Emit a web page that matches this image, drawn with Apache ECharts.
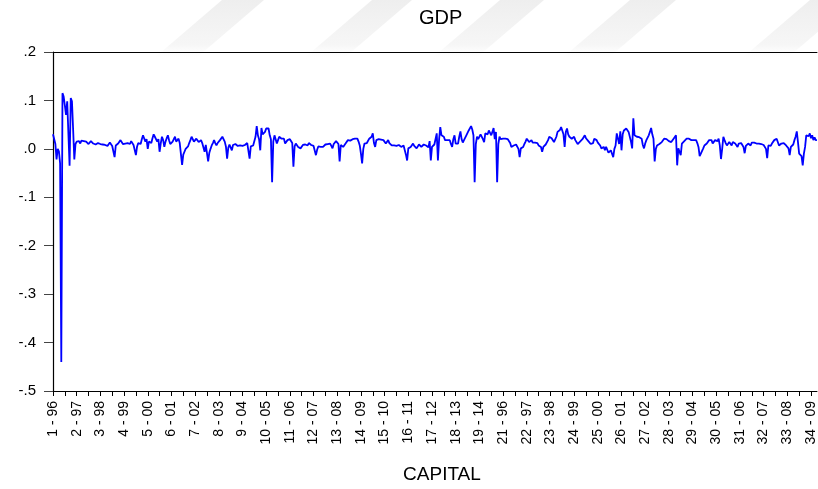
<!DOCTYPE html>
<html>
<head>
<meta charset="utf-8">
<script src="https://cdn.jsdelivr.net/npm/echarts@6/dist/echarts.min.js"></script>
<style>
html,body{margin:0;padding:0;background:#fff;}
#chart{width:818px;height:489px;}
</style>
</head>
<body>
<div id="chart"></div>
<script>
// cross-section ids and years (obs labels are "id - yy")
const crossIds = [1,2,3,4,5,6,7,8,9,10,11,12,13,14,15,16,17,18,19,20,21,22,23,24,25,26,27,28,29,30,31,32,33,34];
const years = ['96','97','98','99','00','01','02','03','04','05','06','07','08','09','10','11','12','13','14'];
const yTicks = [-0.5,-0.4,-0.3,-0.2,-0.1,0,0.1,0.2];

// GDP values, cross-sections 1-17
const gdpPart1 = [
 0.030, 0.028, 0.010,-0.022, 0.000,-0.005,-0.030,-0.440, 0.115, 0.108, 0.090, 0.070, 0.098, 0.095,-0.035, 0.105, 0.098, 0.040,-0.022,
 0.010, 0.015, 0.018, 0.016, 0.011, 0.017, 0.014, 0.016, 0.012, 0.015, 0.013, 0.010, 0.014, 0.016, 0.012, 0.011, 0.013, 0.009, 0.012,
 0.012, 0.013, 0.010, 0.012, 0.009, 0.011, 0.008, 0.005, 0.006, 0.010, 0.013, 0.011, 0.006, 0.008,-0.017, 0.007, 0.005, 0.011, 0.015,
 0.018, 0.020, 0.010, 0.014, 0.011, 0.015, 0.012, 0.013, 0.010, 0.016, 0.014, 0.008, 0.005,-0.013, 0.005, 0.012, 0.015, 0.010, 0.020,
 0.028, 0.032, 0.015, 0.020, 0.000, 0.015, 0.018, 0.012, 0.022, 0.030, 0.025, 0.028, 0.015, 0.020,-0.006, 0.012, 0.025, 0.018, 0.004,
 0.015, 0.022, 0.028, 0.018, 0.010, 0.006, 0.015, 0.020, 0.025, 0.015, 0.018, 0.021, 0.012, 0.008,-0.033,-0.012,-0.006, 0.000,-0.003,
 0.005, 0.012, 0.018, 0.025, 0.022, 0.015, 0.018, 0.021, 0.020, 0.014, 0.016, 0.018, 0.012, 0.010,-0.006, 0.008, 0.004,-0.026,-0.008,
 0.000, 0.007, 0.012, 0.018, 0.012, 0.007, 0.012, 0.015, 0.018, 0.022, 0.025, 0.028, 0.015, 0.005,-0.020, 0.002, 0.009, 0.008,-0.003,
 0.008, 0.011, 0.010, 0.012, 0.006, 0.004, 0.007, 0.005, 0.006, 0.004, 0.008, 0.005, 0.012, 0.008,-0.020, 0.005, 0.008, 0.007, 0.010,
 0.025, 0.047, 0.028, 0.020,-0.003, 0.043, 0.030, 0.028, 0.035, 0.042, 0.040, 0.042, 0.028, 0.020,-0.069, 0.015, 0.028, 0.020, 0.011,
 0.018, 0.025, 0.022, 0.021, 0.018, 0.021, 0.011, 0.015, 0.018, 0.021, 0.020, 0.016, 0.012,-0.037, 0.005, 0.011, 0.008, 0.004, 0.006,
 0.001, 0.003, 0.008, 0.011, 0.009, 0.006, 0.007, 0.012, 0.014, 0.008, 0.004, 0.006, 0.002,-0.013,-0.002, 0.005, 0.007, 0.004, 0.008,
 0.004, 0.006, 0.009, 0.007, 0.010, 0.012, 0.011, 0.006, 0.001, 0.010, 0.014, 0.016, 0.018, 0.010,-0.026, 0.008, 0.011, 0.004, 0.008,
 0.011, 0.014, 0.018, 0.016, 0.017, 0.018, 0.020, 0.019, 0.021, 0.020, 0.021, 0.015, 0.007,-0.010,-0.030, 0.000, 0.011, 0.014, 0.012,
 0.016, 0.021, 0.018, 0.025, 0.032, 0.012, 0.004, 0.018, 0.022, 0.020, 0.021, 0.019, 0.016, 0.018, 0.014, 0.011, 0.015, 0.018, 0.012,
 0.010, 0.007, 0.009, 0.007, 0.005, 0.006, 0.004, 0.008, 0.005, 0.004, 0.006, 0.007, 0.003,-0.012,-0.024, 0.001, 0.003, 0.004, 0.008,
 0.011, 0.006, 0.003, 0.001, 0.005, 0.009, 0.006, 0.004, 0.007, 0.009, 0.007, 0.007, 0.005, 0.003, 0.016,-0.024, 0.004, 0.007, 0.009
];
// GDP values, cross-sections 18-34
const gdpPart2 = [
 0.010, 0.032,-0.024, 0.020, 0.045, 0.028, 0.032, 0.025, 0.018, 0.021, 0.018, 0.016, 0.018, 0.010, 0.004, 0.020, 0.028, 0.011, 0.012,
 0.011, 0.025, 0.036, 0.020, 0.013, 0.018, 0.021, 0.028, 0.032, 0.038, 0.042, 0.047, 0.040, 0.028,-0.069, 0.010, 0.025, 0.020, 0.018,
 0.030, 0.032, 0.020, 0.014, 0.032, 0.028, 0.030, 0.038, 0.042, 0.028, 0.035, 0.043, 0.020, 0.035,-0.069, 0.010, 0.025, 0.020, 0.018,
 0.021, 0.019, 0.021, 0.021, 0.020, 0.018, 0.012, 0.004, 0.006, 0.007, 0.011, 0.009, 0.008, 0.000,-0.017, 0.001, 0.003, 0.004, 0.010,
 0.015, 0.021, 0.018, 0.014, 0.016, 0.018, 0.013, 0.011, 0.013, 0.016, 0.012, 0.007, 0.011, 0.004,-0.006, 0.004, 0.007, 0.009, 0.011,
 0.018, 0.025, 0.028, 0.022, 0.018, 0.014, 0.011, 0.025, 0.035, 0.037, 0.039, 0.045, 0.049, 0.030, 0.004, 0.035, 0.042, 0.030, 0.025,
 0.021, 0.021, 0.024, 0.025, 0.018, 0.014, 0.010, 0.007, 0.015, 0.018, 0.020, 0.021, 0.028, 0.022, 0.018, 0.016, 0.014, 0.010, 0.007,
 0.012, 0.021, 0.020, 0.018, 0.013, 0.009, 0.007, 0.001, 0.004, 0.004,-0.003, 0.004, 0.007,-0.008,-0.010,-0.003,-0.010,-0.017, 0.000,
 0.007, 0.032, 0.035, 0.010, 0.036,-0.003, 0.030, 0.038, 0.035, 0.042, 0.038, 0.035, 0.032, 0.015, 0.001, 0.063, 0.028, 0.028, 0.025,
 0.028, 0.024, 0.021, 0.021, 0.008, 0.001, 0.011, 0.018, 0.021, 0.028, 0.035, 0.043, 0.030, 0.021,-0.026, 0.000, 0.007, 0.007, 0.010,
 0.011, 0.014, 0.018, 0.021, 0.018, 0.020, 0.021, 0.016, 0.014, 0.014, 0.018, 0.021, 0.025, 0.028,-0.034, 0.001,-0.006,-0.013, 0.011,
 0.014, 0.016, 0.018, 0.021, 0.023, 0.021, 0.019, 0.018, 0.018, 0.018, 0.016, 0.018, 0.012, 0.004,-0.015,-0.010,-0.006, 0.001, 0.007,
 0.009, 0.011, 0.014, 0.018, 0.016, 0.018, 0.011, 0.014, 0.018, 0.018, 0.016, 0.021, 0.007,-0.021, 0.000, 0.025, 0.018, 0.012, 0.007,
 0.011, 0.014, 0.012, 0.007, 0.014, 0.012, 0.011, 0.007, 0.004, 0.011, 0.013, 0.012, 0.011, 0.004,-0.009, 0.006, 0.009, 0.011, 0.009,
 0.007, 0.013, 0.014, 0.013, 0.012, 0.011, 0.011, 0.011, 0.011, 0.010, 0.011, 0.008, 0.007, 0.000,-0.019, 0.007, 0.004, 0.006, 0.011,
 0.014, 0.018, 0.020, 0.021, 0.018, 0.007, 0.009, 0.011, 0.011, 0.012, 0.013, 0.007, 0.004, 0.001,-0.013, 0.004, 0.007, 0.009, 0.018,
 0.025, 0.036, 0.014,-0.010,-0.010,-0.015,-0.034,-0.010, 0.004, 0.028, 0.025, 0.026, 0.032, 0.022, 0.028, 0.018, 0.024, 0.018, 0.018
];

const categories = [];
crossIds.forEach(function (id) {
  years.forEach(function (y) { categories.push(id + ' - ' + y); });
});
const gdp = gdpPart1.concat(gdpPart2);

function fmtY(v) {
  const r = Math.round(v * 10) / 10;
  const s = Math.abs(r).toFixed(1).replace(/^0/, '');
  return (r < 0 ? '-' : '') + s;
}

// faint diagonal background stripes (decorative watermark)
function stripe(xTop, w) {
  return {
    type: 'polygon', z: -10, silent: true,
    shape: {points: [[xTop, 0], [xTop + w, 0], [xTop + w - 70, 60], [xTop - 70, 60]]},
    style: {fill: new echarts.graphic.LinearGradient(0, 0, 0, 1, [
      {offset: 0, color: 'rgba(238,238,238,1)'},
      {offset: 0.75, color: 'rgba(244,244,244,0.8)'},
      {offset: 1, color: 'rgba(255,255,255,0)'}])}
  };
}

const FONT = 'Liberation Sans, Arial, sans-serif';
const chart = echarts.init(document.getElementById('chart'), null, {renderer: 'canvas'});
chart.setOption({
  animation: false,
  backgroundColor: '#ffffff',
  graphic: [stripe(222, 42), stripe(372, 40), stripe(500, 44), stripe(630, 46), stripe(810, 45)],
  title: {
    text: 'GDP',
    left: 414,
    top: 3,
    textStyle: {fontFamily: FONT, fontSize: 20, fontWeight: 'normal', color: '#000'}
  },
  grid: {left: 53, right: 1, top: 52, bottom: 98, containLabel: false},
  xAxis: [{
    type: 'category',
    data: categories,
    boundaryGap: false,
    name: 'CAPITAL',
    nameLocation: 'middle',
    nameGap: 74,
    nameTextStyle: {fontFamily: FONT, fontSize: 19, color: '#000', padding: [0, 0, 0, 14]},
    axisLine: {show: true, onZero: false, lineStyle: {color: '#000', width: 1.2}},
    axisTick: {show: true, length: 5, lineStyle: {color: '#000'}, interval: function (i) { return i % 10 === 0; }},
    axisLabel: {
      interval: function (i) { return i % 20 === 0; },
      rotate: 90,
      margin: 10,
      fontFamily: FONT,
      fontSize: 14,
      color: '#000',
      padding: [0, 0, 8, 0]
    },
    splitLine: {show: false}
  }, {
    type: 'category',
    data: categories,
    position: 'top',
    boundaryGap: false,
    axisLine: {show: true, onZero: false, lineStyle: {color: '#000', width: 1.2}},
    axisTick: {show: false},
    axisLabel: {show: false},
    splitLine: {show: false}
  }],
  yAxis: {
    type: 'value',
    min: yTicks[0],
    max: yTicks[yTicks.length - 1],
    interval: 0.1,
    axisLine: {show: true, onZero: false, lineStyle: {color: '#000', width: 1.2}},
    axisTick: {show: true, length: 9, lineStyle: {color: '#444'}},
    axisLabel: {formatter: fmtY, fontFamily: FONT, fontSize: 15, color: '#000', margin: 17},
    splitLine: {show: false}
  },
  series: [{
    type: 'line',
    data: gdp,
    xAxisIndex: 0,
    showSymbol: false,
    symbol: 'none',
    lineStyle: {color: '#0000ff', width: 1.8},
    emphasis: {disabled: true}
  }]
});
</script>
</body>
</html>
